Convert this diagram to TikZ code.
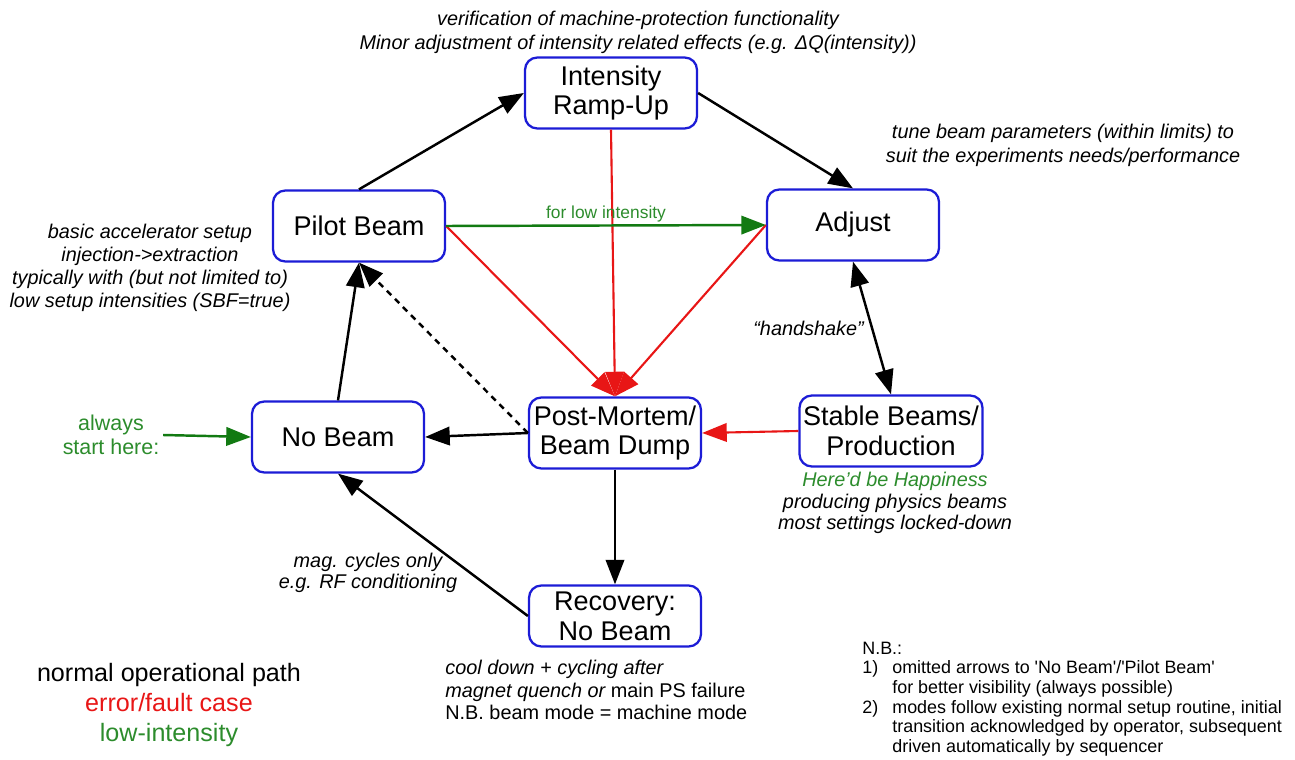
\documentclass[tikz,border=0pt]{standalone}
\usepackage{fontspec}
\setmainfont{Liberation Sans}
\usetikzlibrary{arrows.meta,positioning}
\definecolor{boxblue}{RGB}{28,28,214}
\definecolor{faultred}{RGB}{232,22,22}
\definecolor{lowgreen}{RGB}{18,122,18}
\definecolor{notegreen}{RGB}{44,140,44}
\tikzset{>={Triangle[length=14pt,width=10.5pt]}}
\tikzset{mode/.style={draw=boxblue,line width=1.3pt,rounded corners=7pt,fill=white,
    minimum width=3.44cm,minimum height=1.42cm,align=center,inner sep=2pt,
    font=\fontsize{15.4}{17}\selectfont}}
\tikzset{remark/.style={align=center,inner sep=0pt,font=\fontsize{11.3}{13.1}\selectfont\itshape}}
\tikzset{okpath/.style={black,line width=1.4pt},
    faultpath/.style={faultred,line width=1.2pt},
    lowpath/.style={lowgreen,line width=1.4pt}}

\begin{document}
\begin{tikzpicture}[x=0.02cm,y=-0.02cm]
    \useasboundingbox (0,0) rectangle (1295,760);
    \node[mode] (ramp)     at (611,93)  {Intensity\\Ramp-Up};
    \node[mode] (pilot)    at (359,226) {Pilot Beam};
    \node[mode] (adjust)   at (853,225) {Adjust};
    \node[mode] (nobeam)   at (338,437) {No Beam};
    \node[mode] (dump)     at (615,433) {Post-Mortem/\\Beam Dump};
    \node[mode] (stable)   at (891,431) {Stable Beams/\\Production};
    \node[mode,minimum height=1.22cm] (recovery) at (615,616) {Recovery:\\No Beam};

    \node[remark,font=\fontsize{11.3}{13.6}\selectfont\itshape] (rampnote) at (638,32)
        {verification of machine-protection functionality\\Minor adjustment of intensity related effects (e.g. ΔQ(intensity))};
    \node[remark,font=\fontsize{11.3}{13.6}\selectfont\itshape] (adjustnote) at (1063,145)
        {tune beam parameters (within limits) to\\suit the experiments needs/performance};
    \node[remark] (pilotnote) at (150,268)
        {basic accelerator setup\\injection->extraction\\typically with (but not limited to)\\low setup intensities (SBF=true)};
    \node[remark,font=\fontsize{11.3}{12.2}\selectfont\itshape] (stablenote) at (895,503)
        {\textcolor{notegreen}{Here’d be Happiness}\\producing physics beams\\most settings locked-down};
    \node[remark,font=\fontsize{11.3}{12}\selectfont\itshape] (cyclenote) at (368,573)
        {mag. cycles only\\e.g. RF conditioning};
    \node[remark,align=left,anchor=west,font=\fontsize{11.3}{12.8}\selectfont\itshape] (recoverynote) at (445,690)
        {cool down + cycling after\\magnet quench or {\upshape main PS failure}\\{\upshape N.B. beam mode = machine mode}};
    \node[anchor=north west,inner sep=0pt,font=\fontsize{10.2}{11.2}\selectfont] (nbnote) at (862,640)
        {\begin{tabular}{@{}l@{\hspace{8pt}}l@{}}
        \multicolumn{2}{@{}l@{}}{N.B.:}\\
        1) & omitted arrows to \textquotesingle No Beam\textquotesingle/\textquotesingle Pilot Beam\textquotesingle\\
           & for better visibility (always possible)\\
        2) & modes follow existing normal setup routine, initial\\
           & transition acknowledged by operator, subsequent\\
           & driven automatically by sequencer
        \end{tabular}};
    \node[align=center,inner sep=0pt,font=\fontsize{14.3}{16.8}\selectfont] (legend) at (169,705)
        {normal operational path\\\textcolor{faultred}{error/fault case}\\\textcolor{notegreen}{low-intensity}};
    \node[align=center,inner sep=2pt,text=notegreen,font=\fontsize{12.2}{13.6}\selectfont] (start) at (111,435)
        {always\\start here:};

    \path[->,okpath]
        (pilot.north)  edge (ramp.west)
        (ramp.east)    edge (adjust.north)
        (nobeam.north) edge (pilot.south)
        (dump.west)    edge (nobeam.east)
        (dump.south)   edge (recovery.north)
        (recovery.west) edge (nobeam.south);
    \path[->,okpath,dash pattern=on 3.5pt off 3pt]
        (dump.west) edge (pilot.south);
    \path[<->,okpath]
        (adjust.south) edge node[left,remark,inner sep=4pt] {“handshake”} (stable.north);
    \path[->,faultpath]
        (pilot.east)  edge (dump.north)
        (ramp.south)  edge (dump.north)
        (adjust.west) edge (dump.north)
        (stable.west) edge (dump.east);
    \path[->,lowpath]
        (pilot.east) edge node[above,inner sep=1.5pt,text=notegreen,font=\fontsize{9.9}{11}\selectfont] {for low intensity} (adjust.west)
        (start.east) edge (nobeam.west);
\end{tikzpicture}
\end{document}
